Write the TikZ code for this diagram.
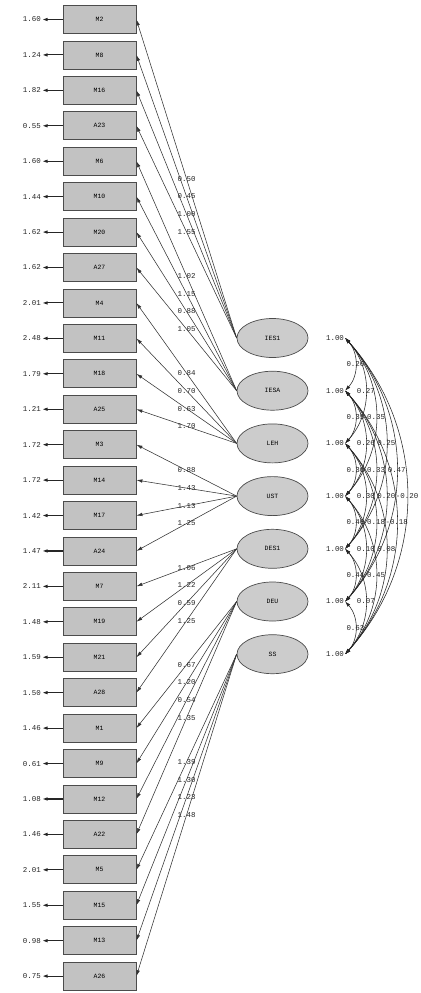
\documentclass[tikz,border=0pt]{standalone}
\usepackage{fontspec}
\setmonofont{Liberation Mono}
\usetikzlibrary{shapes.geometric,arrows.meta}
\begin{document}
\begin{tikzpicture}[x=1bp,y={(0bp,-1bp)},
  obs/.style={draw=black!70, fill=black!24, minimum width=73bp, minimum height=28bp, inner sep=0pt, font=\ttfamily\fontsize{6.5}{7}\selectfont, line width=0.8bp},
  lat/.style={ellipse, draw=black!70, fill=black!20, minimum width=71bp, minimum height=39bp, inner sep=0pt, font=\ttfamily\fontsize{6.5}{7}\selectfont, line width=0.7bp},
  num/.style={font=\ttfamily\fontsize{7.5}{8}\selectfont, inner sep=1bp, text=black!85},
  load/.style={-{Latex[length=6bp,width=3.5bp]}, line width=0.55bp, draw=black!80},
  err/.style={-{Latex[length=5.5bp,width=3.5bp]}, line width=1.1bp, draw=black!85},
  corr/.style={{Latex[length=5.5bp,width=3.5bp]}-{Latex[length=5.5bp,width=3.5bp]}, line width=0.55bp, draw=black!85}]
\useasboundingbox (0,0) rectangle (420,993);
\fill[white] (0,0) rectangle (420,993);
% observed variables
\foreach \n [count=\i] in {M2,M8,M16,A23,M6,M10,M20,A27,M4,M11,M18,A25,M3,M14,M17,A24,M7,M19,M21,A28,M1,M9,M12,A22,M5,M15,M13,A26}{
  \node[obs] (b\i) at (99.5,{19.5+(\i-1)*35.43}) {\n};
}
% error variances
\foreach \val [count=\i] in {1.60,1.24,1.82,0.55,1.60,1.44,1.62,1.62,2.01,2.48,1.79,1.21,1.72,1.72,1.42,1.47,2.11,1.48,1.59,1.50,1.46,0.61,1.08,1.46,2.01,1.55,0.98,0.75}{
  \node[num, anchor=east] (e\i) at (42,{19.5+(\i-1)*35.43}) {\val};
  \draw[err] (b\i.west) -- (e\i.east);
}
% latent variables
\foreach \n [count=\j] in {IES1,IESA,LEH,UST,DES1,DEU,SS}{
  \node[lat] (f\j) at (272.5,{338+(\j-1)*52.7}) {\n};
  \node[num] (v\j) at (335,{338+(\j-1)*52.7}) {1.00};
}
% loadings
\foreach \val [count=\i] in {0.50,0.45,1.00,1.55,1.02,1.15,0.88,1.05,0.84,0.70,0.63,1.70,0.88,1.43,1.13,1.25,1.06,1.22,0.59,1.25,0.67,1.20,0.54,1.35,1.39,1.30,1.23,1.48}{
  \pgfmathtruncatemacro\j{int((\i-1)/4)+1}
  \draw[load] (f\j.west) -- node[num, pos=0.5]{\val} (b\i.east);
}
% correlations
\foreach \p/\q/\val in {1/2/0.26,2/3/0.35,3/4/0.30,4/5/0.40,5/6/0.44,6/7/0.63,
  1/3/0.27,2/4/0.26,3/5/0.30,4/6/0.10,5/7/0.07,
  1/4/0.35,2/5/0.33,3/6/0.18,4/7/0.45,
  1/5/0.25,2/6/0.20,3/7/0.08,
  1/6/0.47,2/7/-0.18,
  1/7/-0.20}{
  \draw[corr] (v\p.east) to[bend left=42] node[num, pos=0.5]{\val} (v\q.east);
}
\end{tikzpicture}
\end{document}
